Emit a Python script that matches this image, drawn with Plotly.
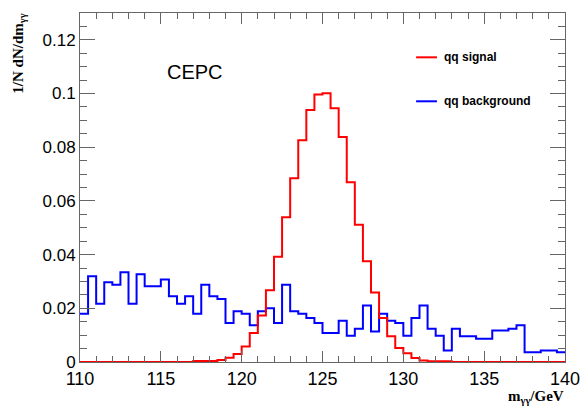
import plotly.graph_objects as go

# bin edges: 60 bins of 0.5 GeV between 110 and 140
x_min, x_max, n_bins = 110.0, 140.0, 60
edges = [x_min + i * (x_max - x_min) / n_bins for i in range(n_bins + 1)]

signal = [0.0] * 14 + [0.0004, 0.0004, 0.0004, 0.0007, 0.0016, 0.0030,
          0.0058, 0.0108, 0.0173, 0.0267, 0.0392, 0.0539, 0.0684, 0.0826, 0.0939, 0.0996,
          0.1001, 0.0945, 0.0838, 0.0670, 0.0511, 0.0375, 0.0259, 0.0164, 0.0096, 0.0052,
          0.0033, 0.0015, 0.0006, 0.0003, 0.0003, 0.0003] + [0.0] * 14

background = [0.0180, 0.0319, 0.0217, 0.0297, 0.0288, 0.0334, 0.0217, 0.0327, 0.0282, 0.0282,
              0.0307, 0.0245, 0.0217, 0.0245, 0.0180, 0.0288, 0.0245, 0.0235, 0.0145, 0.0189,
              0.0180, 0.0137, 0.0189, 0.0200, 0.0145, 0.0288, 0.0189, 0.0180, 0.0164, 0.0145,
              0.0108, 0.0108, 0.0154, 0.0098, 0.0124, 0.0210, 0.0114, 0.0180, 0.0154, 0.0145,
              0.0098, 0.0164, 0.0210, 0.0124, 0.0098, 0.0043, 0.0124, 0.0096, 0.0096, 0.0087,
              0.0087, 0.0117, 0.0117, 0.0124, 0.0137, 0.0036, 0.0036, 0.0043, 0.0043, 0.0036]

x_ticks = [110, 115, 120, 125, 130, 135, 140]
series_names = ["qq signal", "qq background"]
series_colors = ["#ff0000", "#0000ff"]

fig = go.Figure()
fig.add_trace(go.Scatter(x=edges, y=background + [background[-1]], mode="lines",
                         line=dict(shape="hv", color=series_colors[1], width=2),
                         name=series_names[1], showlegend=False))
fig.add_trace(go.Scatter(x=edges, y=signal + [signal[-1]], mode="lines",
                         line=dict(shape="hv", color=series_colors[0], width=2),
                         name=series_names[0], showlegend=False))

frame_col = "#666666"
fig.update_xaxes(range=[x_min, x_max], tickvals=x_ticks, ticks="inside", ticklen=11,
                 tickcolor=frame_col, showline=True, linecolor=frame_col, linewidth=1,
                 mirror="allticks", showgrid=False, zeroline=False, automargin=False,
                 minor=dict(dtick=1, ticks="inside", ticklen=6, tickcolor=frame_col, showgrid=False),
                 tickfont=dict(family="Liberation Sans, Arial", size=18, color="black"))
fig.update_yaxes(range=[0, 0.13], dtick=0.02, tick0=0, ticks="inside", ticklen=15,
                 tickcolor=frame_col, showline=True, linecolor=frame_col, linewidth=1,
                 mirror="allticks", showgrid=False, zeroline=False, automargin=False,
                 minor=dict(dtick=0.005, ticks="inside", ticklen=7, tickcolor=frame_col, showgrid=False),
                 tickfont=dict(family="Liberation Sans, Arial", size=17, color="black"))

# legend (drawn manually, ROOT style)
leg_y = [0.873, 0.747]
for name, col, yy in zip(series_names, series_colors, leg_y):
    fig.add_shape(type="line", xref="paper", yref="paper", x0=0.693, x1=0.736, y0=yy, y1=yy,
                  line=dict(color=col, width=2))
    fig.add_annotation(text="<b>%s</b>" % name, xref="paper", yref="paper", x=0.746, y=yy,
                       xanchor="left", yanchor="middle", showarrow=False,
                       font=dict(family="Liberation Sans, Arial", size=12, color="black"))

fig.add_annotation(text="CEPC", xref="paper", yref="paper", x=0.237, y=0.830,
                   xanchor="center", yanchor="middle", showarrow=False,
                   font=dict(family="Liberation Sans, Arial", size=20, color="black"))

fig.add_annotation(text="<b>1/N dN/dm<sub>γγ</sub></b>", xref="paper", yref="paper",
                   x=-0.125, y=1.005, xanchor="center", yanchor="top", textangle=-90,
                   showarrow=False,
                   font=dict(family="Liberation Serif, Times New Roman", size=15, color="black"))
fig.add_annotation(text="<b>m<sub>γγ</sub>/GeV</b>", xref="paper", yref="paper",
                   x=1.003, y=-0.1, xanchor="right", yanchor="middle", showarrow=False,
                   font=dict(family="Liberation Serif, Times New Roman", size=15, color="black"))

fig.update_layout(width=587, height=409, margin=dict(l=80, r=22, t=13, b=47),
                  plot_bgcolor="white", paper_bgcolor="white", showlegend=False)

fig.write_html("out.html")
